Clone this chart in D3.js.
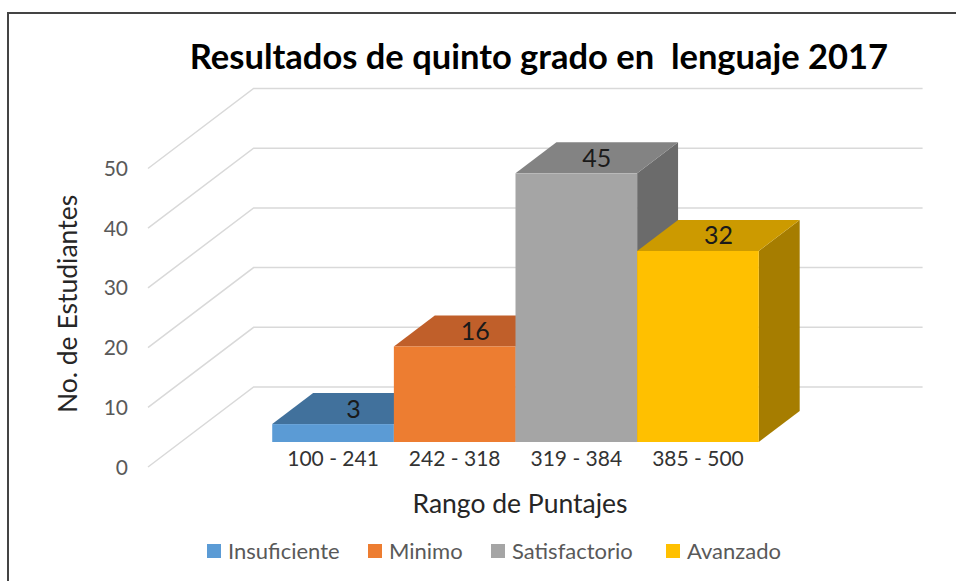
<!DOCTYPE html>
<html>
<head>
<meta charset="utf-8">
<style>
  body { margin: 0; background: #fff; }
  text { font-family: Lato, "Noto Sans", sans-serif; }
</style>
</head>
<body>
<script src="https://d3js.org/d3.v7.min.js"></script>
<script>
    // data
    const categories = ["100 - 241", "242 - 318", "319 - 384", "385 - 500"];
    const series = ["Insuficiente", "Minimo", "Satisfactorio", "Avanzado"];
    const values = [3, 16, 45, 32];
    const yTicks = [0, 10, 20, 30, 40, 50];

    const frontColors = ["#5B9BD5", "#ED7D31", "#A5A5A5", "#FFC000"];
    const topColors = ["#41719C", "#C05F2A", "#838383", "#CC9A00"];
    const sideColors = ["#3A6690", "#A94F1F", "#6B6B6B", "#A67D00"];

    const width = 956;
    const height = 581;

    // oblique 3D: a point at depth z moves right by z*kx and up by z
    const kx = 1.32;
    const floorDepth = 80;
    const barZ0 = 25;
    const barZ1 = 56;

    const x = d3.scaleBand()
        .domain(categories)
        .range([148, 817])
        .paddingInner(0)
        .paddingOuter(0.75);

    const y = d3.scaleLinear()
        .domain([0, 50])
        .range([467, 168.5]);

    const px = (xv, z) => xv + z * kx;
    const py = (v, z) => y(v) - z;

    const svg = d3.select("body")
        .append("svg")
        .attr("width", width)
        .attr("height", height);

    // frame
    svg.append("rect")
        .attr("x", 8)
        .attr("y", 13)
        .attr("width", width + 20)
        .attr("height", height + 20)
        .attr("fill", "#fff")
        .attr("stroke", "#444")
        .attr("stroke-width", 2);

    svg.append("text")
        .attr("x", 539)
        .attr("y", 69)
        .attr("text-anchor", "middle")
        .attr("font-size", 34.5)
        .attr("font-weight", "bold")
        .attr("fill", "#000")
        .attr("xml:space", "preserve")
        .text("Resultados de quinto grado en  lenguaje 2017");

    // gridlines: side wall diagonal then back wall
    const x0 = x.range()[0], x1 = x.range()[1];
    svg.append("g")
        .selectAll("polyline")
        .data(yTicks)
        .enter()
        .append("polyline")
        .attr("points", v => [
            [x0, py(v, 0)],
            [px(x0, floorDepth), py(v, floorDepth)],
            [px(x1, floorDepth), py(v, floorDepth)]
        ].map(p => p.join(",")).join(" "))
        .attr("fill", "none")
        .attr("stroke", "#D9D9D9")
        .attr("stroke-width", 1.5);

    svg.append("g")
        .selectAll("text")
        .data(yTicks)
        .enter()
        .append("text")
        .attr("x", 128)
        .attr("y", v => py(v, 0))
        .attr("dy", "0.36em")
        .attr("text-anchor", "end")
        .attr("font-size", 21)
        .attr("fill", "#595959")
        .text(d => d);

    // bars, left to right so each covers the previous one's side
    const bars = svg.append("g");
    categories.forEach((c, i) => {
        const v = values[i];
        const xl = x(c), xr = x(c) + x.bandwidth();
        const poly = pts => pts.map(p => p.join(",")).join(" ");
        bars.append("polygon")
            .attr("points", poly([
                [px(xr, barZ0), py(0, barZ0)], [px(xr, barZ1), py(0, barZ1)],
                [px(xr, barZ1), py(v, barZ1)], [px(xr, barZ0), py(v, barZ0)]
            ]))
            .attr("fill", sideColors[i]);
        bars.append("polygon")
            .attr("points", poly([
                [px(xl, barZ0), py(v, barZ0)], [px(xr, barZ0), py(v, barZ0)],
                [px(xr, barZ1), py(v, barZ1)], [px(xl, barZ1), py(v, barZ1)]
            ]))
            .attr("fill", topColors[i]);
        bars.append("rect")
            .attr("x", px(xl, barZ0))
            .attr("y", py(v, barZ0))
            .attr("width", x.bandwidth())
            .attr("height", py(0, barZ0) - py(v, barZ0))
            .attr("fill", frontColors[i]);
    });

    const zMid = (barZ0 + barZ1) / 2;
    svg.append("g")
        .selectAll("text")
        .data(categories)
        .enter()
        .append("text")
        .attr("x", c => px(x(c) + x.bandwidth() / 2, zMid))
        .attr("y", (c, i) => py(values[i], zMid))
        .attr("dy", "0.36em")
        .attr("text-anchor", "middle")
        .attr("font-size", 25)
        .attr("fill", "#1a1a1a")
        .text((c, i) => values[i]);

    // category labels
    svg.append("g")
        .selectAll("text")
        .data(categories)
        .enter()
        .append("text")
        .attr("x", c => px(x(c) + x.bandwidth() / 2, barZ0))
        .attr("y", 466)
        .attr("text-anchor", "middle")
        .attr("font-size", 21)
        .attr("fill", "#333")
        .attr("xml:space", "preserve")
        .text(d => d);

    svg.append("text")
        .attr("x", 520)
        .attr("y", 513)
        .attr("text-anchor", "middle")
        .attr("font-size", 26.5)
        .attr("fill", "#262626")
        .text("Rango de Puntajes");

    svg.append("text")
        .attr("transform", "translate(77,304) rotate(-90)")
        .attr("text-anchor", "middle")
        .attr("font-size", 26.5)
        .attr("fill", "#262626")
        .text("No. de Estudiantes");

    // legend
    const legendX = [207, 368, 491, 666];
    const legend = svg.append("g")
        .selectAll("g")
        .data(series)
        .enter()
        .append("g")
        .attr("transform", (d, i) => "translate(" + legendX[i] + ",544)");
    legend.append("rect")
        .attr("width", 14)
        .attr("height", 14)
        .attr("fill", (d, i) => frontColors[i]);
    legend.append("text")
        .attr("x", 21)
        .attr("y", 7)
        .attr("dy", "0.36em")
        .attr("font-size", 22)
        .attr("fill", "#595959")
        .text(d => d);
</script>
</body>
</html>
